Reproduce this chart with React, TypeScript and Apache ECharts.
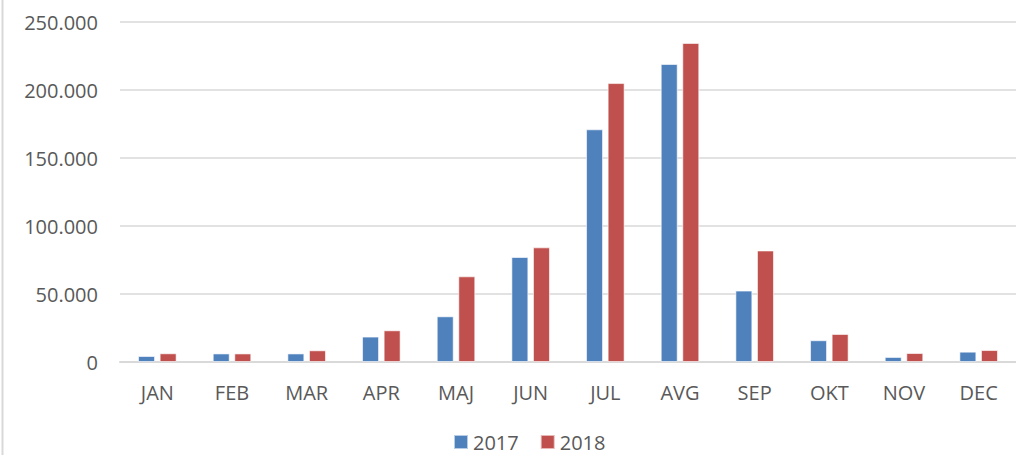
import React, { useEffect, useRef } from "react";
import * as echarts from "echarts";

const categories = ["JAN", "FEB", "MAR", "APR", "MAJ", "JUN", "JUL", "AVG", "SEP", "OKT", "NOV", "DEC"];
const series2017 = [4400, 6300, 6300, 18700, 33600, 77200, 171100, 219100, 52500, 16000, 3700, 7600];
const series2018 = [6400, 6300, 8600, 23300, 63000, 84300, 205100, 234600, 82000, 20600, 6600, 8800];
const yTicks = { min: 0, max: 250000, interval: 50000 };

function fmt(v: number): string {
  return String(v).replace(/\B(?=(\d{3})+(?!\d))/g, ".");
}

export default function App() {
  const ref = useRef<HTMLDivElement>(null);
  useEffect(() => {
    document.body.style.margin = "0";
    if (!ref.current) return;
    const chart = echarts.init(ref.current, undefined, { renderer: "svg" });
    const font = "'Open Sans', 'Liberation Sans', sans-serif";
    chart.setOption({
      animation: false,
      backgroundColor: "#ffffff",
      textStyle: { fontFamily: font },
      grid: { left: 120, right: -1, top: 22, bottom: 93, containLabel: false },
      graphic: [
        {
          type: "line",
          shape: { x1: 2.5, y1: 0, x2: 2.5, y2: 455 },
          style: { stroke: "#d9d9d9", lineWidth: 2 },
        },
      ],
      legend: {
        data: ["2017", "2018"],
        top: 431,
        left: 453,
        padding: 0,
        itemWidth: 14,
        itemHeight: 14,
        itemGap: 21,
        icon: "rect",
        textStyle: { fontSize: 20, lineHeight: 22, color: "#595959", fontFamily: font },
      },
      xAxis: {
        type: "category",
        data: categories,
        axisLine: { lineStyle: { color: "#d9d9d9", width: 2 } },
        axisTick: { show: false },
        axisLabel: { fontSize: 20, color: "#595959", margin: 20, fontFamily: font },
      },
      yAxis: {
        type: "value",
        min: yTicks.min,
        max: yTicks.max,
        interval: yTicks.interval,
        axisLine: { show: false },
        axisTick: { show: false },
        splitLine: { lineStyle: { color: "#d9d9d9", width: 1.5 } },
        axisLabel: {
          fontSize: 20,
          color: "#595959",
          margin: 22,
          fontFamily: font,
          formatter: (v: number) => fmt(v),
        },
      },
      series: [
        {
          name: "2017",
          type: "bar",
          data: series2017,
          barWidth: 17,
          barGap: "27%",
          itemStyle: { color: "#4f81bd", borderColor: "rgba(255,255,255,0.6)", borderWidth: 1 },
        },
        {
          name: "2018",
          type: "bar",
          data: series2018,
          barWidth: 17,
          itemStyle: { color: "#c0504d", borderColor: "rgba(255,255,255,0.6)", borderWidth: 1 },
        },
      ],
    });
    return () => chart.dispose();
  }, []);
  return <div ref={ref} style={{ width: 1016, height: 455 }} />;
}
